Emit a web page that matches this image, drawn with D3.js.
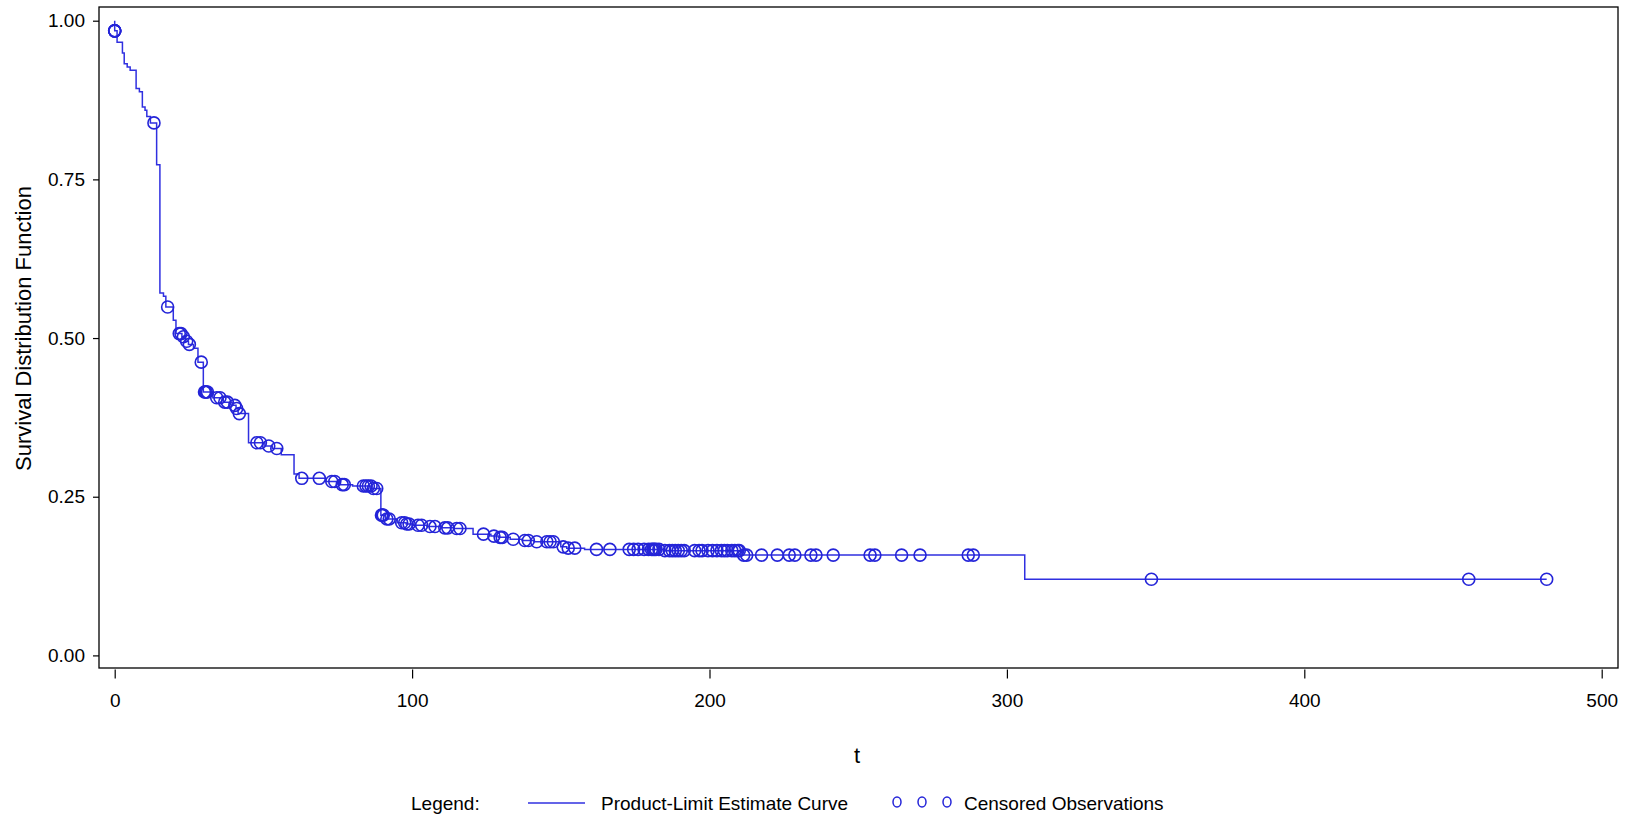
<!DOCTYPE html>
<html lang="en">
<head>
    <meta charset="UTF-8">
    <title>Product-Limit Survival Estimate</title>
    <script src="https://d3js.org/d3.v7.min.js"></script>
    <style>
        body {
            margin: 0;
            background: #fff;
            font-family: 'Liberation Sans', Arial, sans-serif;
        }
        .tick-label {
            font-size: 19px;
            fill: #000;
        }
        .axis-title {
            font-size: 22px;
            fill: #000;
        }
        .legend-text {
            font-size: 19px;
            fill: #000;
        }
        .km-curve {
            fill: none;
            stroke: #3030e0;
            stroke-width: 1.5px;
        }
        .censor {
            fill: none;
            stroke: #2424d8;
            stroke-width: 1.6px;
        }
    </style>
</head>
<body>
    <div id="chart"></div>
    <script>
        // step function of the product-limit estimate: time of event, survival after it
        const stepTimes = [0, 0.8, 2.6, 3.2, 4.2, 5.2, 7.2, 8.3, 9.3, 10.2, 10.8, 12.0, 14.1, 15.2,
            16.4, 17.2, 19.7, 20.6, 22.6, 23.8, 24.8, 26.5, 28.0, 29.8, 33.0, 36.5, 39.5, 40.8, 41.5,
            45.0, 50.5, 53.0, 56.0, 60.3, 62.0, 71.0, 75.5, 80.0, 86.5, 89.5, 91.0, 95.0, 98.0,
            100.5, 105.0, 110.0, 114.0, 120.5, 126.5, 129.0, 133.0, 137.0, 141.0, 150.0, 152.0,
            158.0, 185.0, 211.0, 306.0];
        const stepSurv = [0.984, 0.966, 0.949, 0.932, 0.927, 0.922, 0.893, 0.888, 0.864, 0.859, 0.849, 0.839, 0.773, 0.571,
            0.566, 0.549, 0.528, 0.507, 0.502, 0.495, 0.490, 0.484, 0.462, 0.415, 0.406, 0.399, 0.394, 0.389, 0.381,
            0.335, 0.330, 0.326, 0.316, 0.286, 0.279, 0.274, 0.269, 0.267, 0.263, 0.221, 0.215, 0.209, 0.207,
            0.205, 0.203, 0.201, 0.200, 0.191, 0.188, 0.186, 0.183, 0.181, 0.179, 0.171, 0.169,
            0.167, 0.165, 0.158, 0.120];
        const lastTime = 481.5;

        // censored observation times
        const censoredTimes = [0, 0, 0, 0, 13.2, 17.8, 21.7, 22.3, 23.1, 24.2, 25.1, 29.1, 30.2, 30.5, 30.8, 31.2,
            34.3, 35.4, 37.0, 37.9, 40.4, 41.0, 41.9, 47.8, 49.0, 51.8, 54.5, 62.9, 68.8, 73.0, 74.0,
            76.5, 77.2, 83.6, 84.5, 85.3, 86.2, 87.0, 88.1, 89.7, 90.0, 90.3, 91.5, 92.3, 96.5, 97.5,
            98.2, 99.0, 102.0, 103.2, 106.0, 107.7, 111.0, 112.0, 115.0, 116.1, 124.0, 127.5, 129.6,
            130.3, 134.0, 137.9, 139.1, 141.9, 145.3, 146.4, 147.5, 150.8, 152.5, 154.7, 162.0, 166.5,
            173.0, 174.5, 176.0, 178.0, 179.5, 180.5, 181.0, 181.5, 182.0, 183.0, 185.0, 186.5, 187.5,
            188.5, 189.5, 190.5, 191.5, 195.0, 196.5, 197.5, 199.5, 201.0, 202.5, 204.0, 205.0, 206.0,
            207.5, 208.5, 209.5, 210.0, 211.5, 212.5, 217.5, 222.8, 226.8, 228.7, 234.1, 235.8, 241.6,
            254.0, 255.6, 264.6, 270.8, 287.0, 288.7, 348.6, 455.3, 481.5];

        const xTicks = [0, 100, 200, 300, 400, 500];
        const yTicks = [0, 0.25, 0.5, 0.75, 1.0];

        const W = 1631, H = 824;
        const frame = {left: 99, right: 1618, top: 7, bottom: 668};

        const svg = d3.select("#chart").append("svg")
            .attr("width", W)
            .attr("height", H);

        const x = d3.scaleLinear().domain([0, 500]).range([114.7, 1601.7]);
        const y = d3.scaleLinear().domain([0, 1]).range([655.4, 20.7]);

        // frame
        svg.append("rect")
            .attr("x", frame.left).attr("y", frame.top)
            .attr("width", frame.right - frame.left)
            .attr("height", frame.bottom - frame.top)
            .attr("fill", "none")
            .attr("stroke", "#000")
            .attr("stroke-width", 1.3);

        // y axis
        const yAxis = d3.axisLeft(y).tickValues(yTicks).tickSize(6).tickPadding(8)
            .tickFormat(d3.format(".2f"));
        const gy = svg.append("g").attr("transform", `translate(${frame.left},0)`).call(yAxis);
        gy.select(".domain").remove();
        gy.selectAll(".tick line").attr("stroke", "#000").attr("stroke-width", 1.2);
        gy.selectAll(".tick text").attr("class", "tick-label").attr("font-size", null)
            .attr("font-family", null);

        // x axis
        const xAxis = d3.axisBottom(x).tickValues(xTicks).tickSize(9).tickPadding(15);
        const gx = svg.append("g").attr("transform", `translate(0,${frame.bottom + 1.5})`).call(xAxis);
        gx.select(".domain").remove();
        gx.selectAll(".tick line").attr("stroke", "#000").attr("stroke-width", 1.2);
        gx.selectAll(".tick text").attr("class", "tick-label").attr("font-size", null)
            .attr("font-family", null);

        // axis titles
        svg.append("text")
            .attr("class", "axis-title")
            .attr("transform", `translate(31,${(frame.top + frame.bottom) / 2 - 9}) rotate(-90)`)
            .attr("text-anchor", "middle")
            .text("Survival Distribution Function");

        svg.append("text")
            .attr("class", "axis-title")
            .attr("x", 857).attr("y", 763)
            .attr("text-anchor", "middle")
            .text("t");

        // step curve
        const pts = [[0, 1]];
        stepTimes.forEach((t, i) => {
            const prev = pts[pts.length - 1][1];
            pts.push([t, prev]);
            pts.push([t, stepSurv[i]]);
        });
        pts.push([lastTime, stepSurv[stepSurv.length - 1]]);

        svg.append("path")
            .datum(pts)
            .attr("class", "km-curve")
            .attr("d", d3.line().x(d => x(d[0])).y(d => y(d[1])));

        // censored marks sit on the curve
        function survAt(t) {
            let s = 1;
            for (let i = 0; i < stepTimes.length; i++) {
                if (stepTimes[i] <= t) s = stepSurv[i];
            }
            return s;
        }

        svg.selectAll(".censor")
            .data(censoredTimes)
            .enter()
            .append("circle")
            .attr("class", "censor")
            .attr("cx", d => x(d))
            .attr("cy", d => y(survAt(d)))
            .attr("r", 6);

        // legend
        const ly = 803;
        svg.append("text").attr("class", "legend-text")
            .attr("x", 411).attr("y", ly + 7).text("Legend:");
        svg.append("line")
            .attr("x1", 528).attr("x2", 585).attr("y1", ly).attr("y2", ly)
            .attr("stroke", "#3030e0").attr("stroke-width", 1.5);
        svg.append("text").attr("class", "legend-text")
            .attr("x", 601).attr("y", ly + 7).text("Product-Limit Estimate Curve");
        svg.selectAll(".legend-mark")
            .data([897, 922, 947])
            .enter()
            .append("ellipse")
            .attr("cx", d => d).attr("cy", ly - 1)
            .attr("rx", 4).attr("ry", 5)
            .attr("fill", "none")
            .attr("stroke", "#2424d8")
            .attr("stroke-width", 1.5);
        svg.append("text").attr("class", "legend-text")
            .attr("x", 964).attr("y", ly + 7).text("Censored Observations");
    </script>
</body>
</html>
